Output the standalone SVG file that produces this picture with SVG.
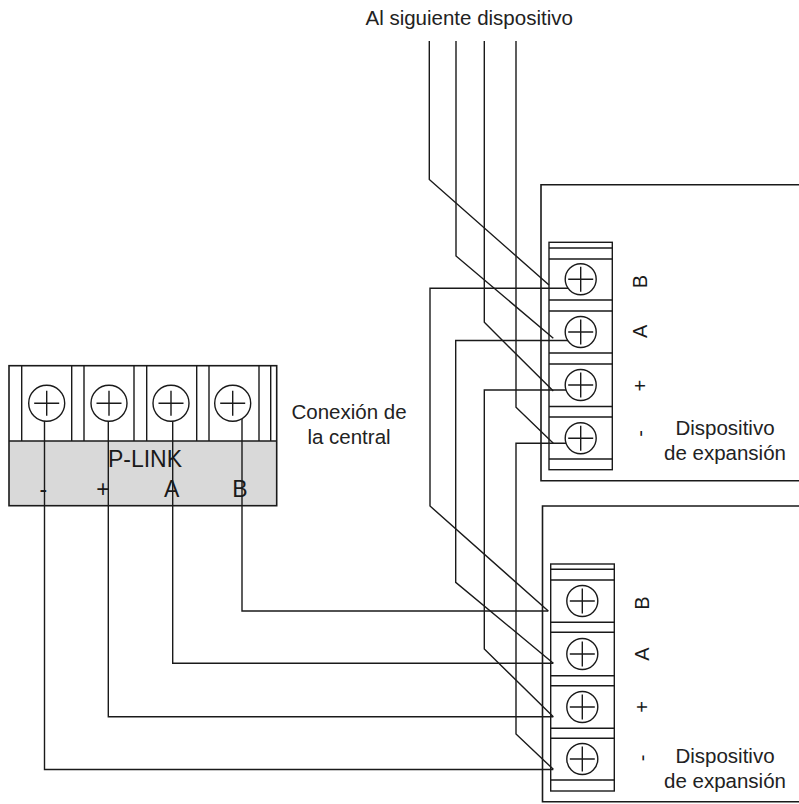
<svg xmlns="http://www.w3.org/2000/svg" width="799" height="804" viewBox="0 0 799 804">
<defs>
<style>
.ln{fill:none;stroke:#1a1a1a;stroke-width:1.4}
.box{fill:none;stroke:#1a1a1a;stroke-width:1.6}
.blk{fill:#ffffff;stroke:#1a1a1a;stroke-width:1.4}
.scr{fill:#ffffff;stroke:#1a1a1a;stroke-width:1.4}
.wire{fill:none;stroke:#1a1a1a;stroke-width:1.4;stroke-linejoin:miter}
.t{font-family:"Liberation Sans",Arial,sans-serif;fill:#222222;font-size:20.5px}
.tl{font-family:"Liberation Sans",Arial,sans-serif;fill:#1a1a1a;font-size:23px}
.tr{font-family:"Liberation Sans",Arial,sans-serif;fill:#1a1a1a;font-size:20px;text-anchor:middle}
</style>
<g id="screwR">
<circle class="scr" cx="0" cy="0" r="15.5"/>
<path class="ln" d="M-12.5 0H12.5M0 -12.5V12.5"/>
</g>
<g id="screwL">
<circle class="scr" cx="0" cy="0" r="18"/>
<path class="ln" d="M-12.5 0H12.5M0 -12.5V12.5"/>
</g>
</defs>
<rect width="799" height="804" fill="#ffffff"/>

<g id="plink">
<rect x="9" y="441" width="267.7" height="64.7" fill="#d9d9d9" stroke="none"/>
<rect class="box" x="9" y="365.7" width="267.7" height="140"/>
<path class="ln" d="M9 441H276.7"/>
<path class="ln" d="M21.7 365.7V441M71.7 365.7V441M84 365.7V441M134 365.7V441M146.7 365.7V441M196.7 365.7V441M209 365.7V441M259 365.7V441M270.7 365.7V441"/>
<use href="#screwL" x="46.7" y="403.3"/>
<use href="#screwL" x="109" y="403.3"/>
<use href="#screwL" x="171" y="403.3"/>
<use href="#screwL" x="232.7" y="403.3"/>
<text class="tl" x="145" y="466.7" text-anchor="middle">P-LINK</text>
<text class="tl" x="43.3" y="496.7" text-anchor="middle">-</text>
<text class="tl" x="103" y="496.7" text-anchor="middle">+</text>
<text class="tl" x="171.7" y="496.7" text-anchor="middle">A</text>
<text class="tl" x="239.8" y="496.7" text-anchor="middle">B</text>
</g>

<g id="conexion-label">
<text class="t" x="349" y="419.3" text-anchor="middle">Conexión de</text>
<text class="t" x="349" y="444" text-anchor="middle">la central</text>
</g>

<g id="siguiente-label">
<text class="t" x="469.2" y="25" text-anchor="middle">Al siguiente dispositivo</text>
</g>

<g id="device1">
<path class="box" d="M800 184.7H541V480.7H800"/>
<rect class="blk" x="549" y="242.3" width="63.3" height="227.4"/>
<path class="ln" d="M549 248H612.3M549 259H612.3M549 300H612.3M549 311H612.3M549 353H612.3M549 364H612.3M549 406.5H612.3M549 417H612.3M549 459H612.3"/>
<use href="#screwR" x="580.7" y="279.3"/>
<use href="#screwR" x="580.7" y="332"/>
<use href="#screwR" x="580.7" y="385"/>
<use href="#screwR" x="580.7" y="438.3"/>
<text class="tr" transform="translate(647 281.7) rotate(-90)">B</text>
<text class="tr" transform="translate(647 331.3) rotate(-90)">A</text>
<text class="tr" transform="translate(647 385.7) rotate(-90)">+</text>
<text class="tr" transform="translate(647 433.3) rotate(-90)">-</text>
<text class="t" x="725" y="434.5" text-anchor="middle">Dispositivo</text>
<text class="t" x="725" y="460" text-anchor="middle">de expansión</text>
</g>

<g id="device2">
<path class="box" d="M800 506H542.5V801.7H800"/>
<rect class="blk" x="550.7" y="564" width="63.6" height="227"/>
<path class="ln" d="M550.7 569.3H614.3M550.7 580H614.3M550.7 622.3H614.3M550.7 632.3H614.3M550.7 675.7H614.3M550.7 685.7H614.3M550.7 728.3H614.3M550.7 738.3H614.3M550.7 780H614.3"/>
<use href="#screwR" x="582.3" y="601"/>
<use href="#screwR" x="582.3" y="654"/>
<use href="#screwR" x="582.3" y="707"/>
<use href="#screwR" x="582.3" y="759"/>
<text class="tr" transform="translate(649 603) rotate(-90)">B</text>
<text class="tr" transform="translate(649 654) rotate(-90)">A</text>
<text class="tr" transform="translate(649 707) rotate(-90)">+</text>
<text class="tr" transform="translate(649 758) rotate(-90)">-</text>
<text class="t" x="725" y="763.3" text-anchor="middle">Dispositivo</text>
<text class="t" x="725" y="788.3" text-anchor="middle">de expansión</text>
</g>

<g id="connectors">
<path class="wire" d="M429.3 41V179.5L549 285"/>
<path class="wire" d="M456 41V256L553.3 338.3"/>
<path class="wire" d="M484.3 41V322.3L553.3 391"/>
<path class="wire" d="M516 41V407.3L553.3 443.3"/>
<path class="wire" d="M568 288.3H430V506L548.3 611"/>
<path class="wire" d="M568 340.5H455.7V582.3L553.3 663.3"/>
<path class="wire" d="M566 390H484.3V649L553.3 716.7"/>
<path class="wire" d="M566 443.3H516V734L553.3 769.3"/>
<path class="wire" d="M242 419V611H548.3"/>
<path class="wire" d="M172.7 421V663.3H553.3"/>
<path class="wire" d="M108.3 421V716.7H553.3"/>
<path class="wire" d="M44.5 421V769.5H553.3"/>
</g>
</svg>
